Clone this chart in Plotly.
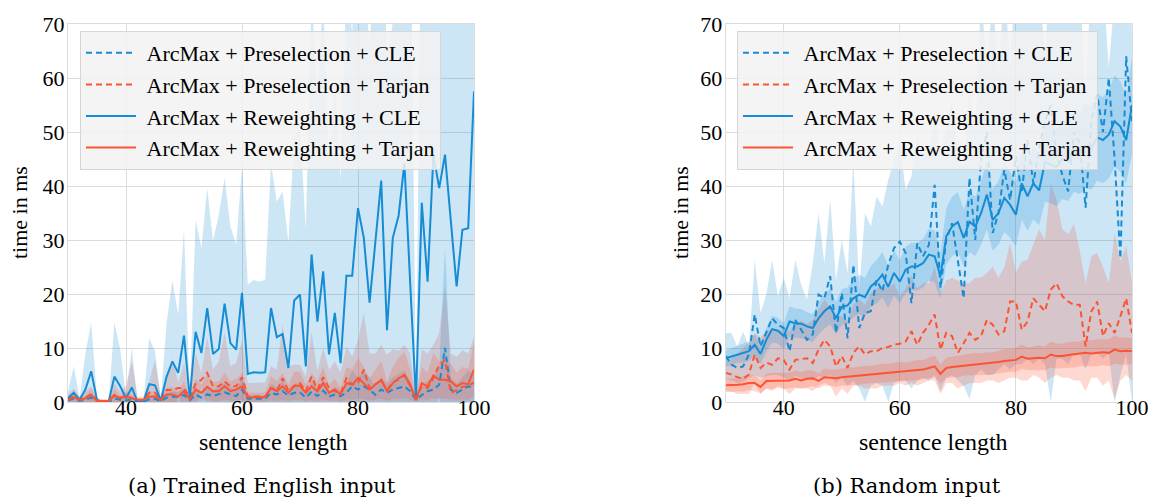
import plotly.graph_objects as go

sentence_length = list(range(30, 101))
series_names = ["ArcMax + Preselection + CLE", "ArcMax + Preselection + Tarjan",
                "ArcMax + Reweighting + CLE", "ArcMax + Reweighting + Tarjan"]
x_ticks = [40, 60, 80, 100]
y_ticks = [0, 10, 20, 30, 40, 50, 60, 70]

# ---------- (a) Trained English input ----------
L_ps_cle = [0.3,0.6,0.2,0.4,0.8,0.2,0.0,0.0,0.6,0.4,
            0.3,0.5,0.0,0.0,0.5,0.6,0.1,0.8,1.0,0.9,
            1.3,0.3,1.4,0.8,1.4,1.1,1.4,1.8,1.4,1.1,
            2.3,0.6,0.6,0.6,0.6,1.7,1.4,2.0,1.2,1.7,
            1.8,0.8,1.9,1.1,2.1,1.0,1.4,1.1,1.7,2.9,
            2.3,2.9,2.3,1.3,2.3,1.7,2.3,2.6,2.9,2.0,
            0.4,1.3,2.0,2.3,3.2,10.0,2.3,1.7,2.3,2.9,
            2.6]
L_ps_cle_sd = [0.3,0.6,0.2,0.4,0.8,0.2,0.1,0.1,0.6,0.4,
               0.3,0.5,0.1,0.1,0.5,0.6,0.1,0.8,1.0,0.9,
               1.3,0.3,1.4,0.8,1.4,1.1,1.4,1.8,1.4,1.1,
               2.3,0.6,0.6,0.6,0.6,1.7,1.4,2.0,1.2,1.7,
               1.8,0.8,1.9,1.1,2.1,1.0,1.4,1.1,1.7,2.9,
               2.3,2.9,2.3,1.3,2.3,1.7,2.3,2.6,2.9,2.0,
               0.4,1.3,2.0,2.3,3.2,18.8,2.3,1.7,2.3,2.9,
               2.6]
L_ps_tj = [0.5,1.0,0.4,0.8,1.5,0.3,0.2,0.2,1.3,0.8,
           1.1,0.7,0.3,0.3,1.7,1.7,0.4,2.2,2.2,2.6,
           2.6,0.8,3.4,4.1,5.4,2.9,2.9,3.8,2.9,2.9,
           4.6,1.0,1.0,1.0,1.0,2.6,2.0,4.4,2.1,2.9,
           3.5,2.0,4.7,2.3,4.6,2.6,2.0,1.6,4.4,3.2,
           3.5,6.0,2.5,3.3,4.0,2.2,3.6,4.2,5.0,3.0,
           0.4,3.0,2.6,4.4,6.9,7.8,1.7,2.2,2.8,3.0,
           3.6]
L_ps_tj_sd = [1.0,1.5,0.6,1.2,1.4,0.5,0.3,0.3,2.2,1.2,
              1.9,6.8,0.7,0.7,2.1,6.1,0.8,2.5,5.9,0.9,
              4.6,1.2,5.6,1.3,6.7,3.1,4.6,9.2,3.7,4.3,
              6.9,2.5,2.6,2.6,2.6,4.0,4.0,9.9,4.5,4.0,
              3.4,2.7,8.3,3.4,5.4,3.4,5.5,3.9,5.9,5.2,
              8.0,10.5,6.5,5.7,6.6,6.6,6.2,5.3,5.6,6.0,
              0.2,6.8,6.4,6.2,5.9,13.6,7.3,6.2,6.8,6.0,
              8.5]
L_rw_cle = [0.7,1.7,0.4,2.3,5.7,0.4,0.0,0.0,4.7,2.9,
            0.7,2.7,0.0,0.0,3.3,3.1,0.2,4.7,7.5,5.4,
            12.3,0.7,13.0,9.1,17.4,8.9,9.8,18.2,10.9,9.7,
            20.2,5.2,5.5,5.4,5.5,17.4,12.0,12.6,6.3,18.8,
            19.9,6.6,27.3,14.9,24.2,8.8,16.5,7.2,23.4,23.4,
            35.9,30.4,18.4,29.7,41.0,13.3,30.4,34.5,44.2,22.0,
            0.4,36.9,22.3,45.8,39.6,45.8,33.7,21.4,31.9,32.2,
            57.5]
L_rw_cle_sd = [1.3,4.9,0.2,6.7,9.0,0.3,0.0,0.0,10.0,6.8,
               0.5,7.3,0.0,0.0,8.5,6.3,0.2,10.0,15.0,10.8,
               19.6,0.5,20.7,19.4,22.2,21.0,24.8,23.3,21.6,19.4,
               23.4,16.5,17.1,16.9,17.1,26.8,25.1,26.4,23.3,30.4,
               31.1,25.3,48.0,41.7,51.0,34.2,43.2,33.9,55.0,45.0,
               60.0,50.0,47.0,55.0,60.0,50.0,40.0,60.0,60.0,78.0,
               0.3,70.0,60.0,60.0,60.0,60.0,60.0,60.0,60.0,60.0,
               60.0]
L_rw_tj = [0.4,0.9,0.4,0.7,1.3,0.2,0.2,0.2,1.2,0.7,
           1.0,0.7,0.4,0.4,1.0,1.0,0.4,1.4,1.4,1.0,
           2.0,0.5,2.3,1.7,2.8,2.0,2.0,2.9,2.0,2.3,
           2.9,0.9,0.9,0.9,0.9,2.6,2.0,2.9,1.7,3.0,
           3.0,1.7,2.9,2.0,3.5,1.7,2.3,1.4,3.5,3.2,
           4.4,3.5,2.3,3.2,4.1,2.0,3.5,4.4,5.0,3.2,
           0.4,3.5,2.9,4.9,4.1,4.1,3.8,2.9,3.5,3.3,
           6.0]
L_rw_tj_sd = [0.4,0.8,0.4,0.6,1.2,0.2,0.2,0.2,1.1,0.6,
              0.9,0.7,0.3,0.3,1.0,1.0,0.3,1.3,1.4,1.0,
              1.8,0.5,2.0,1.5,2.4,1.8,1.8,2.5,1.8,2.0,
              2.5,0.8,0.8,0.8,0.8,2.2,1.8,2.5,1.5,2.6,
              2.6,1.5,2.5,1.8,3.0,1.5,2.0,1.3,3.0,2.8,
              3.8,3.0,2.0,2.8,3.5,1.8,3.0,3.8,4.3,2.8,
              0.3,3.0,2.5,4.2,3.5,3.5,3.3,2.5,3.0,2.9,
              5.0]

# ---------- (b) Random input ----------
R_ps_cle = [8.5,6.9,6.3,6.6,8.8,16.2,10.3,12.8,15.5,14.3,
            13.7,9.4,15.2,13.4,11.5,12.5,19.9,19.2,23.3,12.8,
            20.2,11.8,25.4,13.7,16.5,16.8,22.6,20.5,25.4,28.5,
            29.7,27.6,18.3,29.4,27.0,29.1,40.2,21.1,30.0,33.1,
            26.3,19.2,41.5,30.0,45.0,50.0,31.3,35.0,43.0,37.4,
            45.5,38.7,48.5,40.5,47.0,52.0,55.0,46.0,42.0,39.0,
            50.0,48.0,36.0,52.0,57.0,50.0,60.0,45.0,26.6,64.0,
            52.0]
R_ps_cle_lo = [4.2,4.0,3.5,3.8,4.5,5.0,4.5,4.8,5.0,5.0,
               4.5,4.0,4.8,4.5,4.2,4.0,4.8,4.5,5.0,3.5,
               4.5,3.0,4.0,2.5,0.0,3.0,3.5,3.0,0.0,3.5,
               4.0,4.0,2.5,4.0,4.5,4.0,5.0,2.0,4.5,5.0,
               4.0,3.0,0.5,5.0,6.0,5.0,5.0,6.0,7.0,6.0,
               7.0,7.0,8.0,7.0,8.0,7.0,0.0,8.0,8.0,7.0,
               9.0,9.0,6.0,9.0,9.0,8.0,9.0,0.0,5.0,9.0,
               0.0]
R_ps_cle_hi = [12.8,12.8,10.3,13.0,10.3,26.3,16.5,19.9,26.3,19.6,
               23.0,19.2,26.3,21.7,19.0,25.7,35.0,25.7,37.5,22.6,
               30.0,23.9,44.8,20.8,35.0,32.5,38.0,36.2,41.1,44.8,
               47.9,39.3,41.8,49.8,45.5,46.7,54.1,46.1,51.0,56.0,
               46.0,43.6,59.0,50.0,75.0,62.0,75.0,60.0,78.0,62.0,
               80.0,76.0,82.0,74.0,80.0,63.0,85.0,78.0,75.0,72.0,
               82.0,78.0,56.0,80.0,88.0,78.0,62.0,75.0,72.0,95.0,
               68.0]
R_ps_tj = [5.4,5.1,4.6,4.3,5.1,8.8,6.3,7.3,6.9,8.1,
           7.8,6.0,7.8,8.0,8.1,7.2,9.7,11.5,10.3,6.6,
           8.5,6.3,9.1,10.3,8.8,9.4,9.4,10.0,10.2,10.6,
           10.8,11.2,13.1,10.6,12.8,14.3,16.2,9.7,12.8,12.2,
           9.1,10.9,12.8,11.5,12.2,15.2,14.3,12.5,13.1,18.6,
           18.6,13.4,14.9,19.2,18.0,16.8,20.8,22.0,19.6,18.6,
           18.0,18.0,10.3,16.8,18.6,12.2,14.6,12.8,15.9,19.2,
           12.8]
R_ps_tj_lo = [2.0,2.0,1.5,1.5,1.5,3.5,1.5,2.5,2.0,3.0,
              2.5,1.5,2.5,2.5,2.5,2.0,3.0,3.5,3.0,1.0,
              2.5,1.5,3.0,3.0,2.5,2.5,2.5,3.0,3.0,3.0,
              3.5,3.0,3.5,3.0,3.5,4.0,4.0,1.5,3.5,3.5,
              2.5,3.0,3.5,3.5,3.5,4.0,4.0,3.5,4.0,4.5,
              4.5,4.0,4.0,5.0,4.5,3.5,4.5,5.0,4.5,4.5,
              4.0,4.0,2.0,4.5,4.5,3.0,4.0,0.5,4.0,5.0,
              4.0]
R_ps_tj_hi = [7.5,8.0,9.0,10.0,11.0,12.8,12.0,13.0,13.5,13.0,
              14.0,13.0,14.5,15.0,14.5,15.2,17.0,19.0,17.5,15.0,
              16.0,15.0,18.0,19.0,18.0,20.2,21.0,21.5,21.0,22.0,
              19.6,21.0,23.3,21.0,22.0,22.0,25.1,20.0,22.5,23.0,
              22.5,22.0,22.0,23.0,23.0,23.9,25.0,23.0,25.0,29.4,
              24.0,26.0,26.3,29.0,32.0,30.0,40.5,37.4,32.0,31.0,
              33.0,28.0,22.0,27.0,27.6,25.0,22.0,31.3,26.0,29.0,
              22.0]
R_rw_cle = [8.1,8.4,8.8,9.1,9.4,10.6,8.9,11.5,13.5,13.2,
            12.2,14.9,14.6,14.5,14.0,13.7,15.5,16.8,17.7,15.5,
            17.6,17.9,19.2,19.9,19.4,21.4,22.3,23.6,21.3,23.9,
            22.3,24.5,25.1,25.1,25.7,27.3,27.0,23.3,30.7,32.5,
            33.3,30.4,33.4,32.5,35.0,38.4,33.7,35.0,37.8,36.5,
            34.7,40.5,38.1,40.5,39.2,44.4,44.0,43.5,45.0,44.5,
            46.5,46.0,47.5,47.0,49.0,48.5,49.5,52.0,51.0,48.5,
            55.0]
R_rw_cle_sd = [1.5,1.6,1.6,1.8,1.8,2.0,1.8,2.2,2.5,2.4,
               2.4,2.8,2.7,2.7,2.6,2.6,3.0,3.2,3.3,3.0,
               3.3,3.3,3.5,3.6,3.6,3.8,4.0,4.2,3.9,4.2,
               4.0,4.3,4.4,4.4,4.5,4.8,4.8,4.2,5.2,5.5,
               5.6,5.2,5.6,5.5,5.9,6.4,5.7,5.9,6.3,6.1,
               5.9,6.7,6.4,6.7,6.5,7.3,7.2,7.2,7.4,7.3,
               7.6,7.5,7.8,7.7,8.0,8.0,8.1,8.5,8.4,8.0,
               9.0]
R_rw_tj = [3.1,3.1,3.2,3.3,3.5,3.5,2.8,3.9,3.9,4.0,
           3.9,4.0,4.3,4.0,4.3,4.4,3.9,4.6,4.5,4.4,
           4.6,4.7,4.8,4.9,5.0,5.1,5.2,5.3,5.4,5.5,
           5.6,5.6,5.8,5.9,6.0,6.3,6.6,5.2,6.3,6.5,
           6.6,6.8,6.9,7.0,7.0,7.1,7.2,7.4,7.6,7.7,
           7.8,8.4,8.0,8.1,8.2,8.1,8.8,8.5,8.5,8.7,
           8.8,8.9,9.1,9.0,9.1,9.2,9.1,9.7,9.4,9.5,
           9.4]
R_rw_tj_sd = [1.2,1.3,1.2,1.4,1.3,1.5,1.2,1.4,1.5,1.4,
              1.5,1.4,1.6,1.5,1.6,1.5,1.4,1.6,1.5,1.6,
              1.6,1.7,1.6,1.7,1.7,1.6,1.7,1.8,1.7,1.8,
              1.8,1.7,1.8,1.9,1.8,1.9,2.0,1.8,1.9,1.9,
              2.0,1.9,2.0,2.1,2.0,2.1,2.0,2.1,2.2,2.1,
              2.2,2.3,2.1,2.2,2.3,2.2,2.4,2.3,2.3,2.4,
              2.4,2.3,2.5,2.4,2.5,2.4,2.5,2.6,2.5,2.5,
              2.4]

BLUE = "#168cd4"
RED = "#fc5433"
BLUE_FILL = "rgba(22,140,212,0.22)"
RED_FILL = "rgba(252,84,51,0.22)"
SERIF = "'Liberation Serif', 'Times New Roman', Times, serif"
CAPTION_FONT = "'DejaVu Serif', serif"

# the page body adds an 8px margin; all pixel positions below are page
# positions, shifted by OFF to figure positions
OFF = 8
W, H = 1158 - OFF, 501 - OFF
ML, MR, MT, MB = 68 - OFF, W - (1132 - OFF), 24 - OFF, H - (402 - OFF)


def sd_band(mean, sd):
    return [m - s for m, s in zip(mean, sd)], [m + s for m, s in zip(mean, sd)]


fig = go.Figure()


def add_band(lo, hi, color, xa, ya):
    fig.add_trace(go.Scatter(
        x=sentence_length + sentence_length[::-1], y=hi + lo[::-1],
        fill="toself", fillcolor=color, line=dict(width=0), mode="lines",
        hoverinfo="skip", showlegend=False, xaxis=xa, yaxis=ya))


def add_line(y, name, color, dash, xa, ya, legend):
    fig.add_trace(go.Scatter(
        x=sentence_length, y=y, name="\u00a0" + name, mode="lines",
        line=dict(color=color, width=2, dash=dash),
        legend=legend, legendgroup=legend + name, xaxis=xa, yaxis=ya))


panels = [
    ("x", "y", "legend",
     [(L_ps_cle, *sd_band(L_ps_cle, L_ps_cle_sd)),
      (L_ps_tj, *sd_band(L_ps_tj, L_ps_tj_sd)),
      (L_rw_cle, *sd_band(L_rw_cle, L_rw_cle_sd)),
      (L_rw_tj, *sd_band(L_rw_tj, L_rw_tj_sd))]),
    ("x2", "y2", "legend2",
     [(R_ps_cle, R_ps_cle_lo, R_ps_cle_hi),
      (R_ps_tj, R_ps_tj_lo, R_ps_tj_hi),
      (R_rw_cle, *sd_band(R_rw_cle, R_rw_cle_sd)),
      (R_rw_tj, *sd_band(R_rw_tj, R_rw_tj_sd))]),
]
colors = [BLUE, RED, BLUE, RED]
fills = [BLUE_FILL, RED_FILL, BLUE_FILL, RED_FILL]
dashes = ["6px,4px", "6px,4px", "solid", "solid"]

for xa, ya, lg, series in panels:
    for (mean, lo, hi), fc in zip(series, fills):
        add_band(lo, hi, fc, xa, ya)
    for (mean, lo, hi), name, c, d in zip(series, series_names, colors, dashes):
        add_line(mean, name, c, d, xa, ya, lg)

plot_w = W - ML - MR
plot_h = H - MT - MB


def px_x(p):
    return (p - OFF - ML) / plot_w


def px_y(p):
    return 1 - (p - OFF - MT) / plot_h


grid = dict(showgrid=True, gridcolor="#dcdcdc", gridwidth=1.2, zeroline=False,
            showline=True, linecolor="#dcdcdc", linewidth=1, mirror=True,
            ticks="", ticklen=0, automargin=False,
            tickfont=dict(family=SERIF, size=22, color="black"))
axis_common = dict(range=[30, 100], tickvals=x_ticks, ticklabelstandoff=-14, **grid)
yaxis_common = dict(range=[0, 70], tickvals=y_ticks, ticklabelstandoff=-2, **grid)

legend_common = dict(font=dict(family=SERIF, size=22, color="black"),
                     bgcolor="rgba(242,242,242,0.85)", bordercolor="#d6d6d6",
                     borderwidth=1, xanchor="left", yanchor="top",
                     traceorder="grouped", tracegroupgap=0, itemwidth=50)

fig.update_layout(
    width=W, height=H,
    margin=dict(l=ML, r=MR, t=MT, b=MB, autoexpand=False),
    paper_bgcolor="white", plot_bgcolor="white",
    xaxis=dict(domain=[0, px_x(474)], anchor="y", **axis_common),
    yaxis=dict(domain=[0, 1], anchor="x", **yaxis_common),
    xaxis2=dict(domain=[px_x(725.7), 1], anchor="y2", **axis_common),
    yaxis2=dict(domain=[0, 1], anchor="x2", **yaxis_common),
    legend=dict(x=px_x(80), y=px_y(31), **legend_common),
    legend2=dict(x=px_x(737), y=px_y(31), **legend_common),
    showlegend=True,
)

ann = []
for cx in (19, 680):
    ann.append(dict(text="time in ms", x=px_x(cx), y=0.5, xref="paper", yref="paper",
                    textangle=-90, showarrow=False, xanchor="center", yanchor="middle",
                    font=dict(family=SERIF, size=22, color="black")))
for cx in (273, 933):
    ann.append(dict(text="sentence length", x=px_x(cx), y=px_y(442), xref="paper", yref="paper",
                    showarrow=False, xanchor="center", yanchor="middle",
                    font=dict(family=SERIF, size=24, color="black")))
for cx, txt in ((262, "(a) Trained English input"), (907, "(b) Random input")):
    ann.append(dict(text=txt, x=px_x(cx), y=px_y(486), xref="paper", yref="paper",
                    showarrow=False, xanchor="center", yanchor="middle",
                    font=dict(family=CAPTION_FONT, size=21, color="black")))
fig.update_layout(annotations=ann)

fig.write_html("out.html")
